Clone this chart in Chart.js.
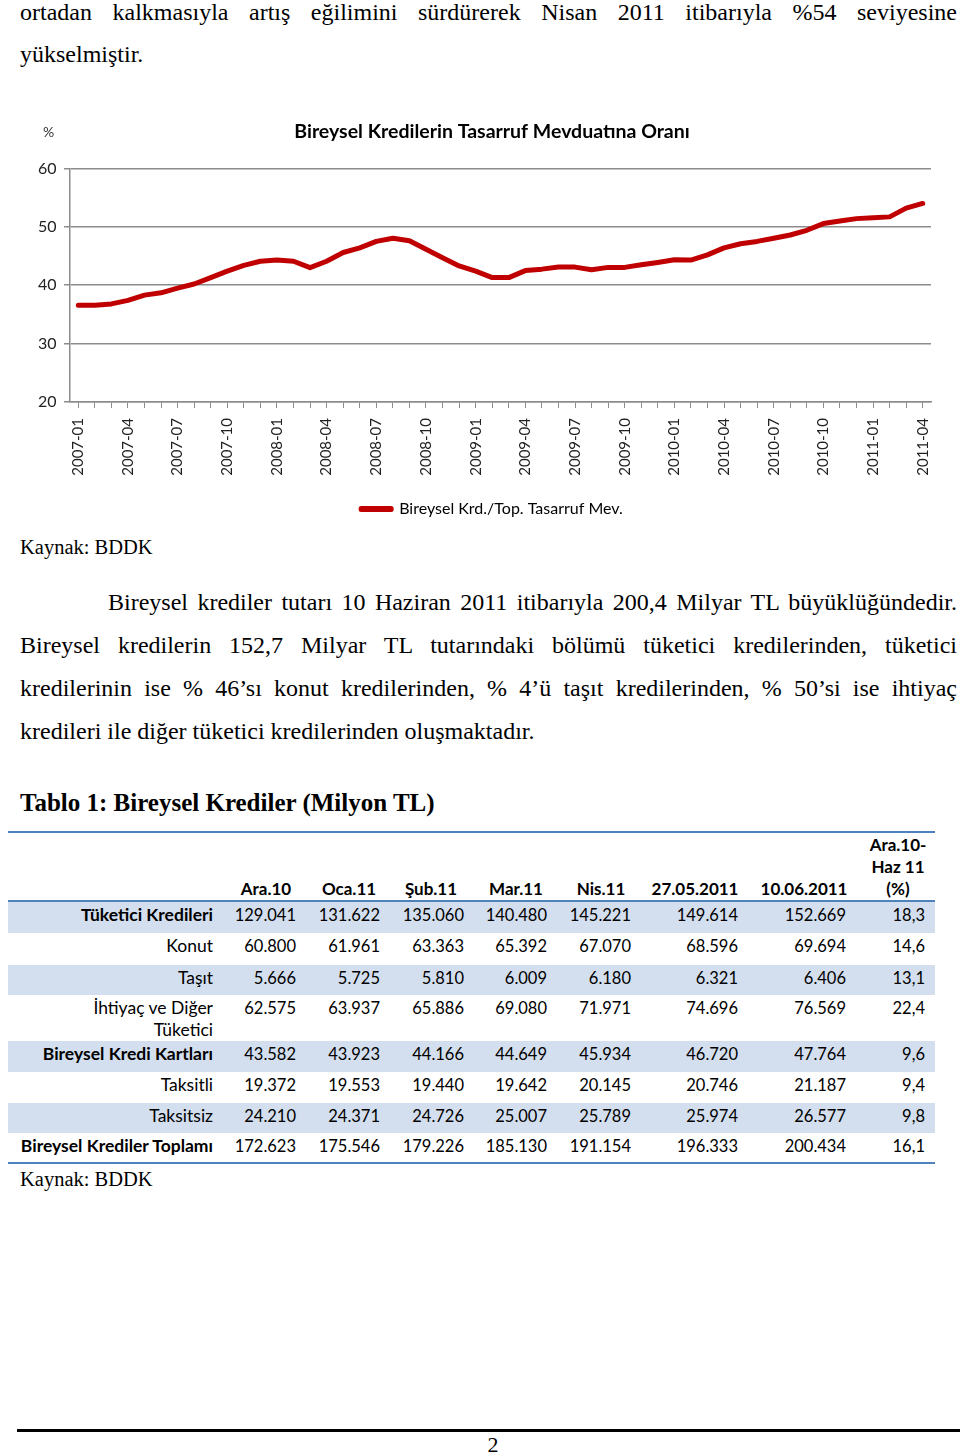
<!DOCTYPE html>
<html lang="tr">
<head>
<meta charset="utf-8">
<title>Bireysel Krediler</title>
<script src="https://cdn.jsdelivr.net/npm/chart.js@4.4.1/dist/chart.umd.min.js"></script>
<style>
html, body { margin: 0; padding: 0; background: #fff; }
body { position: relative; width: 960px; height: 1455px; overflow: hidden;
       font-family: "Liberation Serif", "Times New Roman", serif; color: #000; }
.ln { position: absolute; left: 20px; width: 937px; font-size: 24px; line-height: 30px; white-space: nowrap; }
.just { text-align: justify; text-align-last: justify; white-space: normal; }
.src { position: absolute; left: 20px; font-size: 20.5px; line-height: 30px; }
#chartBox { position: absolute; left: 0; top: 100px; width: 960px; height: 427px; }
#pct { position: absolute; left: 43px; top: 123px; font: 14px Lato, sans-serif; color: #333; }
.tline { position: absolute; left: 8px; width: 927px; height: 2px; background: #4f81bd; }
.row { position: absolute; left: 8px; width: 927px; font: 16.5px/22px Lato, sans-serif; }
.row.shade { background: #d3dfee; }
.row span { position: absolute; top: 2px; text-align: right; white-space: nowrap; }
.row span.lbl { font-size: 17.5px; }
.hd { position: absolute; width: 130px; text-align: center; font: bold 17px/22px Lato, sans-serif; }
#foot { position: absolute; left: 17px; top: 1429px; width: 943px; height: 3px; background: #000; }
#pno { position: absolute; left: 0; width: 960px; top: 1432px; text-align: center; font-size: 22px; line-height: 26px; padding-left: 13px; }
</style>
</head>
<body>

<div class="ln just" style="top:-3px">ortadan kalkmasıyla artış eğilimini sürdürerek Nisan 2011 itibarıyla %54 seviyesine</div>
<div class="ln" style="top:39px">yükselmiştir.</div>

<div id="chartBox"><canvas id="mycanvas"></canvas></div>
<div id="pct">%</div>

<div class="src" style="top:532px">Kaynak: BDDK</div>

<div class="ln just" style="top:587px; left:108px; width:849px">Bireysel krediler tutarı 10 Haziran 2011 itibarıyla 200,4 Milyar TL büyüklüğündedir.</div>
<div class="ln just" style="top:630px">Bireysel kredilerin 152,7 Milyar TL tutarındaki bölümü tüketici kredilerinden, tüketici</div>
<div class="ln just" style="top:673px">kredilerinin ise % 46’sı konut kredilerinden, % 4’ü taşıt kredilerinden, % 50’si ise ihtiyaç</div>
<div class="ln" style="top:716px">kredileri ile diğer tüketici kredilerinden oluşmaktadır.</div>

<div class="ln" style="top:788px; font-weight:bold; font-size:25px">Tablo 1: Bireysel Krediler (Milyon TL)</div>

<div id="tbl"></div>

<div class="src" style="top:1164px">Kaynak: BDDK</div>

<div id="foot"></div>
<div id="pno">2</div>

<script>
// grafik verisi
var months = [
    '2007-01', '2007-02', '2007-03', '2007-04', '2007-05', '2007-06',
    '2007-07', '2007-08', '2007-09', '2007-10', '2007-11', '2007-12',
    '2008-01', '2008-02', '2008-03', '2008-04', '2008-05', '2008-06',
    '2008-07', '2008-08', '2008-09', '2008-10', '2008-11', '2008-12',
    '2009-01', '2009-02', '2009-03', '2009-04', '2009-05', '2009-06',
    '2009-07', '2009-08', '2009-09', '2009-10', '2009-11', '2009-12',
    '2010-01', '2010-02', '2010-03', '2010-04', '2010-05', '2010-06',
    '2010-07', '2010-08', '2010-09', '2010-10', '2010-11', '2010-12',
    '2011-01', '2011-02', '2011-03', '2011-04'
];
var oran = [
    36.55, 36.55, 36.8, 37.4, 38.3, 38.7, 39.5, 40.2, 41.3, 42.4, 43.4, 44.1,
    44.3, 44.1, 43.0, 44.1, 45.6, 46.4, 47.5, 48.05, 47.6, 46.15, 44.7, 43.3,
    42.4, 41.3, 41.3, 42.5, 42.75, 43.1, 43.1, 42.65, 43.05, 43.05, 43.5, 43.9,
    44.35, 44.3, 45.2, 46.4, 47.1, 47.5, 48.05, 48.6, 49.4, 50.55, 51.0, 51.4,
    51.55, 51.7, 53.2, 54.0
];
var yMin = 20, yMax = 60, yStep = 10;

// tablo verisi
var kolonlar = ['Ara.10', 'Oca.11', 'Şub.11', 'Mar.11', 'Nis.11', '27.05.2011', '10.06.2011', 'Ara.10-<br>Haz 11<br>(%)'];
var satirlar = [
    ['Tüketici Kredileri', '129.041', '131.622', '135.060', '140.480', '145.221', '149.614', '152.669', '18,3'],
    ['Konut', '60.800', '61.961', '63.363', '65.392', '67.070', '68.596', '69.694', '14,6'],
    ['Taşıt', '5.666', '5.725', '5.810', '6.009', '6.180', '6.321', '6.406', '13,1'],
    ['İhtiyaç ve Diğer<br>Tüketici', '62.575', '63.937', '65.886', '69.080', '71.971', '74.696', '76.569', '22,4'],
    ['Bireysel Kredi Kartları', '43.582', '43.923', '44.166', '44.649', '45.934', '46.720', '47.764', '9,6'],
    ['Taksitli', '19.372', '19.553', '19.440', '19.642', '20.145', '20.746', '21.187', '9,4'],
    ['Taksitsiz', '24.210', '24.371', '24.726', '25.007', '25.789', '25.974', '26.577', '9,8'],
    ['Bireysel Krediler Toplamı', '172.623', '175.546', '179.226', '185.130', '191.154', '196.333', '200.434', '16,1']
];
var kalin = [true, false, false, false, true, false, false, true];

// tablo yerlesimi
var satirUst = [902, 933, 965, 995, 1041, 1072, 1103, 1133];
var satirBoy = [31, 32, 30, 46, 31, 31, 30, 29];
var sagKenar = [213, 296, 380, 464, 547, 631, 738, 846, 925];
var baslikOrta = [266, 349, 431, 516, 601, 695, 804, 898];

var tbl = document.getElementById('tbl');
var html = '<div class="tline" style="top:831px"></div>';
for (var k = 0; k < kolonlar.length; k++) {
    var last = k == kolonlar.length - 1;
    html += '<div class="hd" style="left:' + (baslikOrta[k] - 65) + 'px;top:' + (last ? 834 : 878) + 'px">' + kolonlar[k] + '</div>';
}
html += '<div class="tline" style="top:900px"></div>';
for (var i = 0; i < satirlar.length; i++) {
    var r = satirlar[i];
    html += '<div class="row' + (i % 2 == 0 ? ' shade' : '') + '" style="top:' + satirUst[i] + 'px;height:' + satirBoy[i] + 'px">';
    html += '<span class="lbl" style="left:0;width:' + (sagKenar[0] - 8) + 'px;' + (kalin[i] ? 'font-weight:bold' : '') + '">' + r[0] + '</span>';
    for (var j = 1; j < r.length; j++) {
        html += '<span style="left:' + (sagKenar[j] - 8 - 100) + 'px;width:100px">' + r[j] + '</span>';
    }
    html += '</div>';
}
html += '<div class="tline" style="top:1162px"></div>';
tbl.innerHTML = html;

// grafik
var ctx = document.getElementById('mycanvas');
var lineChart = new Chart(ctx, {
    type: 'line',
    data: {
        labels: months,
        datasets: [
            {
                label: 'Bireysel Krd./Top. Tasarruf Mev.',
                data: oran,
                borderColor: '#c00000',
                backgroundColor: '#c00000',
                borderWidth: 5,
                borderCapStyle: 'round',
                borderJoinStyle: 'round',
                pointRadius: 0,
                tension: 0,
                fill: false
            }
        ]
    },
    options: {
        responsive: true,
        maintainAspectRatio: false,
        animation: false,
        layout: {padding: {left: 53, right: 29, top: 0, bottom: 0}},
        plugins: {
            title: {
                display: true,
                text: 'Bireysel Kredilerin Tasarruf Mevduatına Oranı',
                color: '#000',
                font: {family: 'Lato', size: 19.5, weight: 'bold'},
                padding: {top: 20, bottom: 25}
            },
            legend: {
                position: 'bottom',
                labels: {
                    color: '#000',
                    font: {family: 'Lato', size: 16},
                    boxWidth: 30,
                    boxHeight: 1,
                    padding: 10
                }
            },
            tooltip: {enabled: false}
        },
        scales: {
            x: {
                offset: true,
                grid: {drawOnChartArea: false, drawTicks: true, tickLength: 6, color: '#8c8c8c', lineWidth: 1},
                border: {color: '#8c8c8c', width: 1.5},
                ticks: {
                    autoSkip: false,
                    minRotation: 90,
                    maxRotation: 90,
                    padding: 10,
                    color: '#222',
                    font: {family: 'Lato', size: 15},
                    callback: function (v, i) { return i % 3 == 0 ? months[i] : ''; }
                },
                afterFit: function (scale) { scale.height = 89; }
            },
            y: {
                min: yMin,
                max: yMax,
                grid: {color: '#8c8c8c', lineWidth: 1.5, tickLength: 6},
                border: {color: '#8c8c8c', width: 1.5},
                // etiketler eksen kutusunun solunda kalsin diye mirror + negatif padding
                ticks: {stepSize: yStep, mirror: true, padding: -32, color: '#222', font: {family: 'Lato', size: 16}},
                afterFit: function (scale) { scale.width = 17; }
            }
        }
    }
});
</script>
</body>
</html>
